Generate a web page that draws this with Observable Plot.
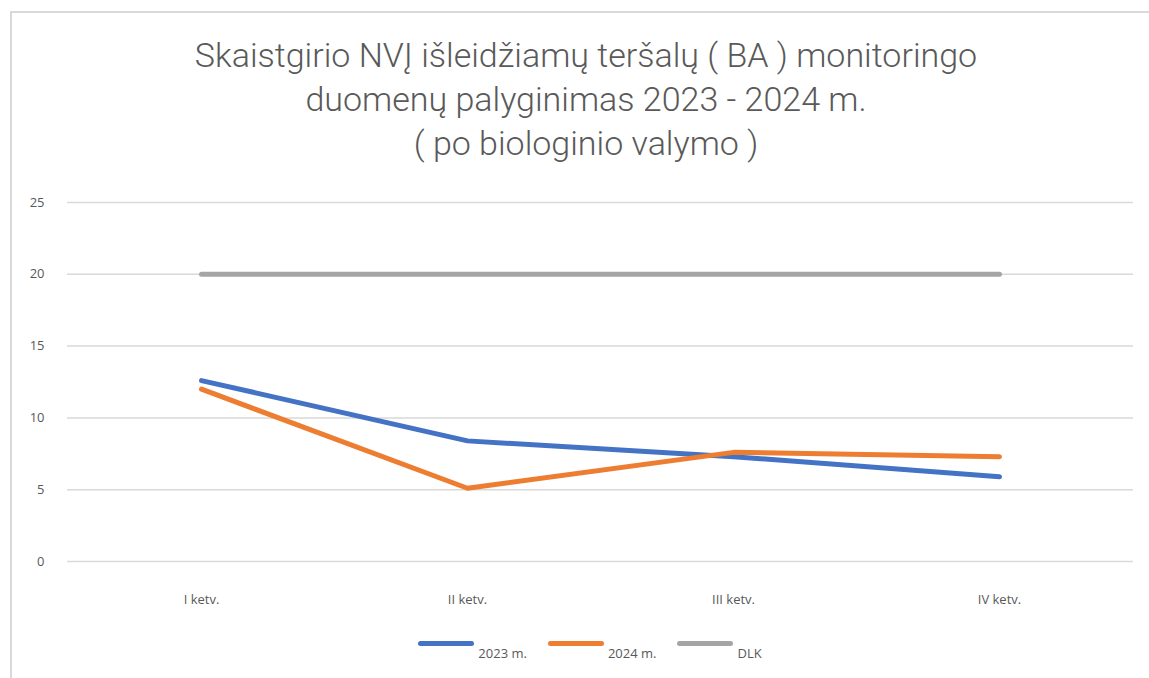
<!DOCTYPE html>
<html>
<head>
<meta charset="utf-8">
<script src="https://cdn.jsdelivr.net/npm/d3@7"></script>
<script src="https://cdn.jsdelivr.net/npm/@observablehq/plot@0.6"></script>
<style>
  html, body { margin: 0; padding: 0; background: #fff; }
  #frame { position: relative; width: 1149px; height: 678px; overflow: hidden; font-family: "Open Sans", sans-serif; }
  #border { position: absolute; left: 10px; top: 11px; right: -10px; bottom: -10px; border-left: 2px solid #d9d9d9; border-top: 2px solid #d9d9d9; }
  #title { position: absolute; left: 0; top: 33px; width: 1172px; text-align: center; font-family: Roboto, "Open Sans", sans-serif; font-size: 34px; line-height: 44px; color: #595959; font-weight: 300; }
  #chart { position: absolute; left: 0; top: 180px; }
  #legend { position: absolute; left: 0; top: 630px; width: 1180px; display: flex; justify-content: center; gap: 21px; font-size: 13px; color: #595959; }
  .item { display: flex; align-items: flex-start; }
  .sw { width: 56px; height: 5px; border-radius: 3px; margin-top: 11px; margin-right: 4px; }
  .lbl { margin-top: 14px; }
</style>
</head>
<body>
<div id="frame">
  <div id="border"></div>
  <div id="title">Skaistgirio NVĮ išleidžiamų teršalų ( BA ) monitoringo<br>duomenų palyginimas 2023 - 2024 m.<br>( po biologinio valymo )</div>
  <div id="chart"></div>
  <div id="legend"></div>
</div>
<script>
const categories = ["I ketv.", "II ketv.", "III ketv.", "IV ketv."];
const series = ["2023 m.", "2024 m.", "DLK"];
const values2023 = [12.6, 8.4, 7.3, 5.9];
const values2024 = [12.0, 5.1, 7.6, 7.3];
const valuesDLK = [20, 20, 20, 20];
const yTicks = [0, 5, 10, 15, 20, 25];
const colors = ["#4472C4", "#ED7D31", "#A5A5A5"];

const allValues = [values2023, values2024, valuesDLK];
const data = [];
series.forEach((s, si) => categories.forEach((c, ci) => data.push({series: s, cat: c, value: allValues[si][ci]})));

const plot = Plot.plot({
  width: 1149,
  height: 440,
  marginTop: 22,
  marginBottom: 59,
  marginLeft: 67,
  marginRight: 16,
  style: { fontFamily: "'Open Sans', sans-serif", fontSize: "13px", color: "#595959", background: "transparent" },
  x: { type: "point", domain: categories, padding: 0.5, label: null },
  y: { domain: [0, 25], ticks: yTicks, label: null },
  color: { domain: series, range: colors },
  marks: [
    Plot.gridY(yTicks, { stroke: "#d9d9d9", strokeOpacity: 1, strokeWidth: 1.5 }),
    Plot.axisY(yTicks, { tickSize: 0, tickPadding: 23, fill: "#595959", fontSize: 13, label: null }),
    Plot.axisX({ tickSize: 0, tickPadding: 33, fill: "#595959", fontSize: 13, label: null }),
    Plot.line(data, { x: "cat", y: "value", z: "series", stroke: "series", strokeWidth: 5, strokeLinecap: "round", strokeLinejoin: "round" })
  ]
});
document.getElementById("chart").appendChild(plot);

const legend = document.getElementById("legend");
series.forEach((s, i) => {
  const item = document.createElement("div");
  item.className = "item";
  const sw = document.createElement("div");
  sw.className = "sw";
  sw.style.background = colors[i];
  const lbl = document.createElement("div");
  lbl.className = "lbl";
  lbl.textContent = s;
  item.appendChild(sw);
  item.appendChild(lbl);
  legend.appendChild(item);
});
</script>
</body>
</html>
